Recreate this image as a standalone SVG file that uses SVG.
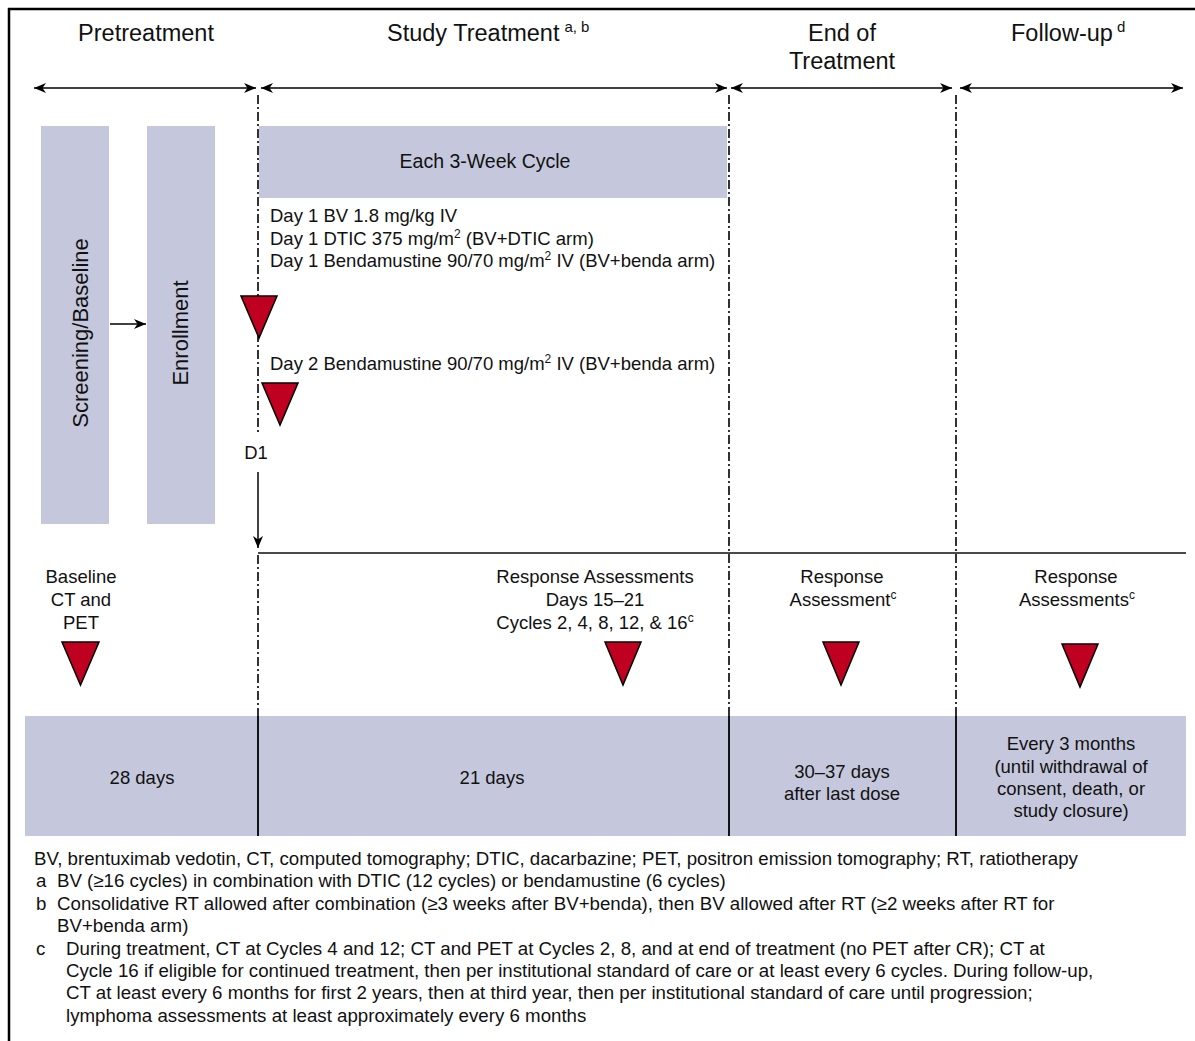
<svg xmlns="http://www.w3.org/2000/svg" width="1195" height="1041" viewBox="0 0 1195 1041">
<defs>
<style>
text { font-family: "Liberation Sans", Arial, Helvetica, sans-serif; fill: #111; }
.h { font-size: 23.5px; }
.b { font-size: 18.5px; }
.f { font-size: 18.7px; }
.c { text-anchor: middle; }
.bar { fill: #c5c8dc; }
.tri { fill: #bf0020; stroke: #000; stroke-width: 1.5; }
.dd { stroke: #000; stroke-width: 1.6; stroke-dasharray: 9 3 2 3; fill: none; }
.sol { stroke: #000; stroke-width: 1.8; fill: none; }
.arr { stroke: #000; stroke-width: 1.5; fill: none; }
</style>
<marker id="ah" markerUnits="userSpaceOnUse" markerWidth="14" markerHeight="12" viewBox="-12 -6 14 12" refX="0" refY="0" orient="auto-start-reverse">
<path d="M0,0 L-12,-5 L-8.5,0 L-12,5 Z" fill="#000"/>
</marker>
</defs>
<rect width="1195" height="1041" fill="#fff"/>
<g id="frame">
<line x1="8" y1="9" x2="1195" y2="9" stroke="#000" stroke-width="2.5"/>
<line x1="9" y1="8" x2="9" y2="1041" stroke="#000" stroke-width="2.5"/>
</g>
<g id="headers">
<text class="h c" x="146" y="41">Pretreatment</text>
<text class="h" x="387" y="41">Study Treatment<tspan font-size="15" dx="5" dy="-9">a, b</tspan></text>
<text class="h c" x="842" y="41">End of</text>
<text class="h c" x="842" y="69">Treatment</text>
<text class="h" x="1011" y="41">Follow-up<tspan font-size="15" dx="4" dy="-9">d</tspan></text>
</g>
<g id="connectors">
<line class="arr" x1="34" y1="88" x2="256" y2="88" marker-start="url(#ah)" marker-end="url(#ah)"/>
<line class="arr" x1="261" y1="88" x2="727" y2="88" marker-start="url(#ah)" marker-end="url(#ah)"/>
<line class="arr" x1="731" y1="88" x2="952" y2="88" marker-start="url(#ah)" marker-end="url(#ah)"/>
<line class="arr" x1="960" y1="88" x2="1183" y2="88" marker-start="url(#ah)" marker-end="url(#ah)"/>
<line class="dd" x1="258" y1="95" x2="258" y2="432"/>
<line class="dd" x1="258" y1="555" x2="258" y2="716"/>
<line class="dd" x1="729" y1="95" x2="729" y2="716"/>
<line class="dd" x1="956" y1="95" x2="956" y2="716"/>
<line class="arr" x1="110" y1="324" x2="146" y2="324" marker-end="url(#ah)"/>
<line class="arr" x1="258" y1="472" x2="258" y2="548" marker-end="url(#ah)"/>
<line x1="258" y1="553" x2="1186" y2="553" stroke="#4a4a4a" stroke-width="2"/>
</g>
<g id="screening">
<rect class="bar" x="41" y="126" width="68" height="398"/>
<text text-anchor="middle" transform="translate(88,333) rotate(-90)" style="font-size:22px">Screening/Baseline</text>
</g>
<g id="enrollment">
<rect class="bar" x="147" y="126" width="68" height="398"/>
<text text-anchor="middle" transform="translate(188,333) rotate(-90)" style="font-size:22px">Enrollment</text>
</g>
<g id="cycle">
<rect class="bar" x="259" y="126" width="468" height="72"/>
<text class="c" x="485" y="168" style="font-size:19.5px">Each 3-Week Cycle</text>
</g>
<g id="dosing">
<text class="b" x="270" y="222">Day 1 BV 1.8 mg/kg IV</text>
<text class="b" x="270" y="245">Day 1 DTIC 375 mg/m<tspan font-size="12" dy="-7">2</tspan><tspan dy="7"> (BV+DTIC arm)</tspan></text>
<text class="b" x="270" y="267">Day 1 Bendamustine 90/70 mg/m<tspan font-size="12" dy="-7">2</tspan><tspan dy="7"> IV (BV+benda arm)</tspan></text>
<polygon class="tri" points="241,296 277,296 259,338"/>
<text class="b" x="270" y="370">Day 2 Bendamustine 90/70 mg/m<tspan font-size="12" dy="-7">2</tspan><tspan dy="7"> IV (BV+benda arm)</tspan></text>
<polygon class="tri" points="262,383 298,383 280,425"/>
<text class="b c" x="256" y="459">D1</text>
</g>
<g id="baseline-assess">
<text class="b c" x="81" y="583">Baseline</text>
<text class="b c" x="81" y="606">CT and</text>
<text class="b c" x="81" y="629">PET</text>
<polygon class="tri" points="62,642 99,642 80.5,685"/>
</g>
<g id="response-treatment">
<text class="b c" x="595" y="583">Response Assessments</text>
<text class="b c" x="595" y="606">Days 15–21</text>
<text class="b c" x="595" y="629">Cycles 2, 4, 8, 12, &amp; 16<tspan font-size="12" dy="-7">c</tspan></text>
<polygon class="tri" points="605,642 641,642 623,685"/>
</g>
<g id="response-eot">
<text class="b c" x="842" y="583">Response</text>
<text class="b c" x="843" y="606">Assessment<tspan font-size="12" dy="-7">c</tspan></text>
<polygon class="tri" points="823,642 859,642 841,685"/>
</g>
<g id="response-fu">
<text class="b c" x="1076" y="583">Response</text>
<text class="b c" x="1077" y="606">Assessments<tspan font-size="12" dy="-7">c</tspan></text>
<polygon class="tri" points="1062,644 1098,644 1080,687"/>
</g>
<g id="duration-bar">
<rect class="bar" x="25" y="716" width="1161" height="120"/>
<line class="sol" x1="258" y1="716" x2="258" y2="836"/>
<line class="sol" x1="729" y1="716" x2="729" y2="836"/>
<line class="sol" x1="956" y1="716" x2="956" y2="836"/>
<text class="b c" x="142" y="784">28 days</text>
<text class="b c" x="492" y="784">21 days</text>
<text class="b c" x="842" y="778">30–37 days</text>
<text class="b c" x="842" y="800">after last dose</text>
<text class="b c" x="1071" y="750">Every 3 months</text>
<text class="b c" x="1071" y="773">(until withdrawal of</text>
<text class="b c" x="1071" y="795">consent, death, or</text>
<text class="b c" x="1071" y="817">study closure)</text>
</g>
<g id="footnotes">
<text class="f" x="34" y="865">BV, brentuximab vedotin, CT, computed tomography; DTIC, dacarbazine; PET, positron emission tomography; RT, ratiotherapy</text>
<text class="f" x="36" y="887.4">a</text>
<text class="f" x="57" y="887.4">BV (≥16 cycles) in combination with DTIC (12 cycles) or bendamustine (6 cycles)</text>
<text class="f" x="36" y="909.8">b</text>
<text class="f" x="57" y="909.8">Consolidative RT allowed after combination (≥3 weeks after BV+benda), then BV allowed after RT (≥2 weeks after RT for</text>
<text class="f" x="57" y="932.2">BV+benda arm)</text>
<text class="f" x="36" y="954.6">c</text>
<text class="f" x="66" y="954.6">During treatment, CT at Cycles 4 and 12; CT and PET at Cycles 2, 8, and at end of treatment (no PET after CR); CT at</text>
<text class="f" x="66" y="977">Cycle 16 if eligible for continued treatment, then per institutional standard of care or at least every 6 cycles. During follow-up,</text>
<text class="f" x="66" y="999.4">CT at least every 6 months for first 2 years, then at third year, then per institutional standard of care until progression;</text>
<text class="f" x="66" y="1021.8">lymphoma assessments at least approximately every 6 months</text>
</g>
</svg>
